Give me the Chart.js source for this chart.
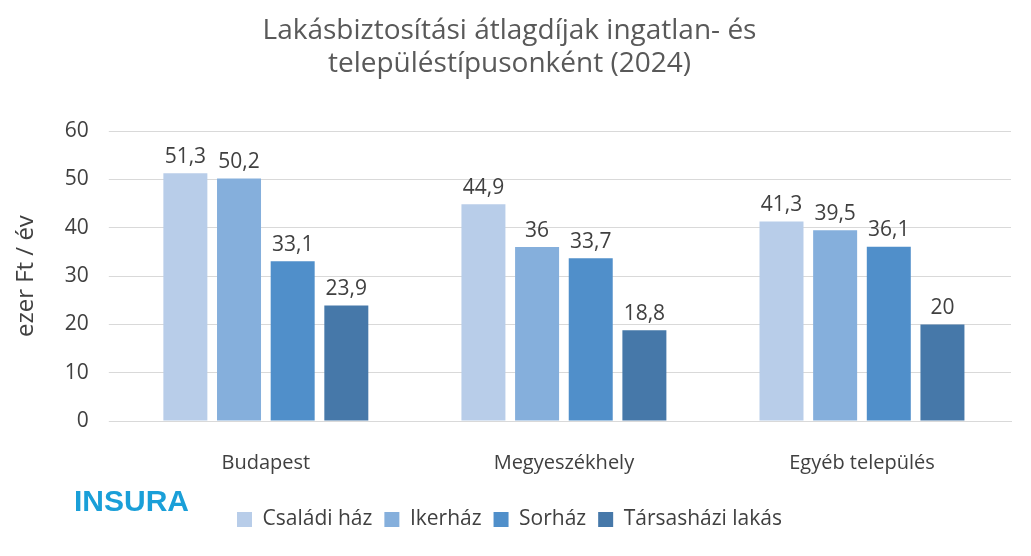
<!DOCTYPE html>
<html><head><meta charset="utf-8">
<script src="https://cdn.jsdelivr.net/npm/chart.js@4"></script>
<style>body{margin:0;background:#fff}#w{position:relative;width:1031px;height:556px}
#logo{position:absolute;left:74px;top:484px;font:bold 30px 'Liberation Sans';color:#1a9fd8;letter-spacing:0px}</style>
</head><body><div id="w"><canvas id="c" width="1031" height="556"></canvas><div id="logo">INSURA</div></div>
<script>
const categories=["Budapest","Megyeszékhely","Egyéb település"];
const seriesNames=["Családi ház","Ikerház","Sorház","Társasházi lakás"];
const csaladi=[51.3,44.9,41.3];
const iker=[50.2,36,39.5];
const sor=[33.1,33.7,36.1];
const tarsas=[23.9,18.8,20];
const colors=["#b8cde9","#85afdc","#508fca","#4678a9"];
const font="'Open Sans'";
const labelPlugin={id:'lbl',afterDatasetsDraw(ch){const c=ch.ctx;c.save();c.font="21px "+font;c.fillStyle="#404040";c.textAlign="center";c.textBaseline="bottom";
ch.data.datasets.forEach((d,i)=>ch.getDatasetMeta(i).data.forEach((b,j)=>c.fillText(String(d.data[j]).replace('.',','),b.x,b.y-6)));c.restore();}};
new Chart(document.getElementById('c'),{type:'bar',
data:{labels:categories,datasets:[csaladi,iker,sor,tarsas].map((d,i)=>({label:seriesNames[i],data:d,backgroundColor:colors[i]}))},
options:{responsive:false,animation:false,
layout:{padding:{left:8,right:20,top:0,bottom:16}},
datasets:{bar:{categoryPercentage:0.72,barPercentage:0.82}},
plugins:{title:{display:true,text:["Lakásbiztosítási átlagdíjak ingatlan- és","településtípusonként (2024)"],color:"#595959",font:{family:font,size:28,weight:'normal'},padding:{top:14,bottom:50},lineHeight:1.4},
legend:{position:'bottom',labels:{color:"#404040",font:{family:font,size:21},boxWidth:15,boxHeight:15,padding:12}},tooltip:{enabled:false}},
scales:{x:{grid:{display:false},border:{color:"#d9d9d9"},ticks:{color:"#404040",font:{family:font,size:20},padding:22}},
y:{min:0,max:60,ticks:{stepSize:10,color:"#404040",font:{family:font,size:21},padding:20},grid:{color:"#d9d9d9"},border:{display:false},
title:{display:true,text:"ezer Ft / év",color:"#404040",font:{family:font,size:24}}}}},
plugins:[labelPlugin]});
</script></body></html>
